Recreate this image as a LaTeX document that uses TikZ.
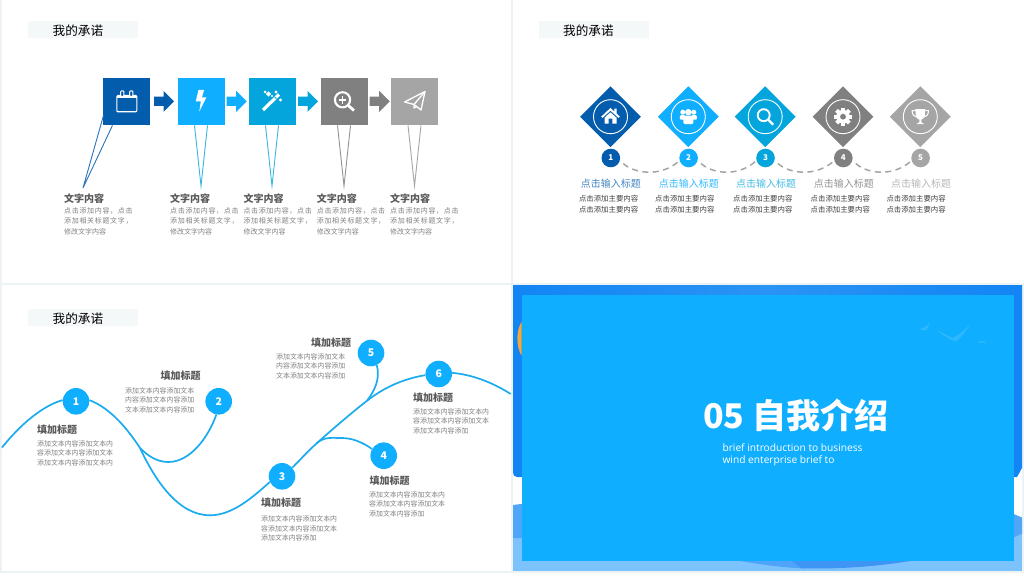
\documentclass[tikz,border=0pt]{standalone}
\usepackage{fontspec}
\setmainfont{Noto Sans CJK SC}
\newfontfamily\cjkspaced[LetterSpace=9.5]{Noto Sans CJK SC}
\newfontfamily\latinfont{Open Sans}
\usetikzlibrary{calc,shapes.geometric}
\definecolor{gutter}{HTML}{EDF3F5}
\definecolor{barfill}{HTML}{F5F8F9}
\definecolor{cA}{HTML}{045CAD}
\definecolor{cB}{HTML}{0FAEFF}
\definecolor{cC}{HTML}{04A5DC}
\definecolor{cD}{HTML}{808080}
\definecolor{cE}{HTML}{A5A5A5}
\definecolor{curve}{HTML}{1AACEF}
\definecolor{headgrey}{HTML}{595959}
\definecolor{bodygrey}{HTML}{808080}
\definecolor{deep}{HTML}{1384F4}
\definecolor{deepmid}{HTML}{2A94F5}
\definecolor{light}{HTML}{7CC2FC}
\definecolor{mid}{HTML}{4FA6F8}
\definecolor{bulgeA}{HTML}{4EA4F8}
\definecolor{bulgeB}{HTML}{3F95F3}
\definecolor{sun}{HTML}{F2A83B}
\tikzset{
  panel/.style={fill=white,draw=none},
  titlebar/.style={fill=barfill,minimum width=110,minimum height=17,inner sep=0,anchor=north west},
  titletext/.style={inner sep=0,anchor=west,text=black,font=\fontsize{12.6}{15}\selectfont},
  sq/.style={minimum size=47,inner sep=0,fill=#1,anchor=north west},
  pin/.style={draw=#1,line width=.9,line join=miter},
  headtext/.style={inner sep=0,anchor=west,text=headgrey,font=\fontsize{10}{12}\bfseries\selectfont},
  bodyone/.style={inner sep=0,anchor=north west,align=left,text=bodygrey,font=\fontsize{7}{10.3}\cjkspaced\selectfont},
  dia/.style={diamond,aspect=1,minimum size=61,inner sep=0,fill=#1},
  ring/.style={circle,draw=white,line width=.9,minimum size=34,inner sep=0},
  numc/.style={circle,minimum size=18.6,inner sep=0,fill=#1,text=white,font=\fontsize{8}{9}\bfseries\selectfont},
  dashcurve/.style={draw=cE,line width=1.5,dash pattern=on 6 off 4.5},
  titletwo/.style={inner sep=0,anchor=west,text=#1,font=\fontsize{10}{12}\selectfont},
  bodytwo/.style={inner sep=0,anchor=north west,align=left,text=black!75,font=\fontsize{7.4}{10.4}\selectfont},
  stepcirc/.style={circle,minimum size=26.6,inner sep=0,fill=cB,text=white,font=\fontsize{10.5}{12}\bfseries\selectfont},
  wave/.style={draw=curve,line width=1.7},
  bodythree/.style={inner sep=0,anchor=north west,align=left,text=bodygrey,font=\fontsize{6.9}{9.55}\selectfont},
}
\newcommand{\blockarrow}[3]{\fill[#3] (#1,#2-4.7)--++(9.5,0)--++(0,-5.8)--(#1+20,#2)--(#1+9.5,#2+10.5)--++(0,-5.8)--(#1,#2+4.7)--cycle;}
\begin{document}
\begin{tikzpicture}[x=1pt,y=-1pt]
\useasboundingbox (0,0) rectangle (1024,577);
\fill[gutter] (0,0) rectangle (1024,577);
\fill[panel] (2,0) rectangle (511,283);
\fill[panel] (513,0) rectangle (1024,283);
\fill[panel] (2,285) rectangle (511,571);
\fill[panel] (0,573) rectangle (1024,577);
\fill[panel] (513,285) rectangle (1022,571);
% ---- panel 1
\node[titlebar] (tbA) at (28,21) {};
\node[titletext] (ttA) at (52.5,30.5) {我的承诺};
\node[sq=cA] (a1) at (103,78) {};
\node[sq=cB] (a2) at (177.5,78) {};
\node[sq=cC] (a3) at (248.5,78) {};
\node[sq=cD] (a4) at (320.5,78) {};
\node[sq=cE] (a5) at (391,78) {};
\blockarrow{154}{101.3}{cA}
\blockarrow{226.7}{101.3}{cB}
\blockarrow{298}{101.3}{cC}
\blockarrow{369.7}{101.3}{cD}
\coordinate (pa1) at (83,188);
\coordinate (pa2) at (201,186);
\coordinate (pa3) at (272,186);
\coordinate (pa4) at (344,186);
\coordinate (pa5) at (414.5,186);
\draw[pin=cA!85!white] ($(a1.south west)+(0.5,-10)$) -- (pa1) -- ($(a1.south west)+(9.5,0)$);
\draw[pin=cC!80!white] ($(a2.south west)+(17,0)$) -- (pa2) -- ($(a2.south west)+(30,0)$);
\draw[pin=cC!80!white] ($(a3.south west)+(17,0)$) -- (pa3) -- ($(a3.south west)+(30,0)$);
\draw[pin=cD!85!white] ($(a4.south west)+(17,0)$) -- (pa4) -- ($(a4.south west)+(30,0)$);
\draw[pin=cE] ($(a5.south west)+(17,0)$) -- (pa5) -- ($(a5.south west)+(30,0)$);
% calendar
\draw[white,line width=1.1,rounded corners=1] (116.8,95.5) rectangle (136.8,111.8);
\draw[white,line width=2] (117,97) -- (136.6,97);
\filldraw[draw=white,fill=cA,line width=1,rounded corners=.8] (120.7,96.4) -- (120.7,91) -- (123.9,91) -- (123.9,96.4) -- cycle;
\filldraw[draw=white,fill=cA,line width=1,rounded corners=.8] (129.7,96.4) -- (129.7,91) -- (132.9,91) -- (132.9,96.4) -- cycle;
% bolt
\fill[white] (198.5,90) -- (204,90) -- (202,97.5) -- (206.3,97.5) -- (199.3,111.5) -- (200.8,101.5) -- (195.7,101.5) -- cycle;
% wand
\draw[white,line width=3.2] (263,110) -- (279,94.5);
\fill[cC] (274.2,97.2) -- (276,99) -- (276.7,98.3) -- (274.9,96.5) -- cycle;
\foreach \sx/\sy/\sz in {268.5/94/2.6, 276/92/1.7, 280.5/100/1.7, 265/92/1.5, 272/96/1.2}{
  \fill[white] (\sx-\sz,\sy) -- (\sx,\sy-\sz) -- (\sx+\sz,\sy) -- (\sx,\sy+\sz) -- cycle;}
% zoom
\draw[white,line width=2.1] (342.5,99.8) circle (7.6);
\draw[white,line width=1.5] (338.7,99.8) -- (346.3,99.8) (342.5,96) -- (342.5,103.6);
\draw[white,line width=2.8] (348.2,105.5) -- (354,110.5);
% plane
\draw[white,line width=1.3,line join=round] (404.5,102) -- (425,91.5) -- (421,110) -- (414,104.5) -- cycle;
\draw[white,line width=1.3,line join=round] (414,104.5) -- (425,91.5) (414,104.5) -- (414,108) -- (417,106.5);
% texts panel 1
\foreach \nm/\xx in {1/64,2/170,3/243.3,4/316.7,5/390}{
  \node[headtext] (ah\nm) at (\xx,198.7) {文字内容};
  \node[bodyone] (ab\nm) at (\xx,207.4) {点击添加内容，点击\\添加相关标题文字，\\{\normalfont\fontsize{7}{10.3}\selectfont 修改文字内容}};
}
% ---- panel 2
\node[titlebar] (tbB) at (539,21) {};
\node[titletext] (ttB) at (563,30.5) {我的承诺};
\foreach \nm/\xx/\cc in {1/610.5/cA,2/688.3/cB,3/765.2/cC,4/843/cD,5/920.3/cE}{
  \node[dia=\cc] (d\nm) at (\xx,116.7) {};
  \node[ring] (r\nm) at (\xx,116.7) {};
  \node[numc=\cc] (n\nm) at (\xx+.3,158) {\nm};
}
\node[titletwo=cA!75!white] (dt1) at (580.7,183.3) {点击输入标题};
\node[titletwo=cB!85!white] (dt2) at (658.7,183.3) {点击输入标题};
\node[titletwo=cC!75!white] (dt3) at (736,183.3) {点击输入标题};
\node[titletwo=cD!85!white] (dt4) at (813.7,183.3) {点击输入标题};
\node[titletwo=cE!80!white] (dt5) at (891,183.3) {点击输入标题};
\foreach \nm/\xx in {1/578.8,2/655,3/733,4/810.5,5/886.3}{
  \node[bodytwo] (db\nm) at (\xx,195.5) {点击添加主要内容\\点击添加主要内容};
}
\foreach \s/\e in {1/2,2/3,3/4,4/5}{
  \draw[dashcurve] ($(n\s)+(12.5,5.5)$) .. controls ($(n\s)+(22.5,15)$) and ($(n\e)+(-28.5,20)$) .. ($(n\e)+(-9.5,3)$);
}
% house
\begin{scope}[shift={(610.5,116.7)}]
\fill[white] (-9.3,0) -- (0,-8.8) -- (3.8,-5.2) -- (3.8,-8) -- (6.2,-8) -- (6.2,-3) -- (9.3,0) -- (8,1.2) -- (0,-6) -- (-8,1.2) -- cycle;
\fill[white] (-6,1) -- (0,-4.4) -- (6,1) -- (6,7) -- (1.8,7) -- (1.8,2) -- (-1.8,2) -- (-1.8,7) -- (-6,7) -- cycle;
\end{scope}
% people
\begin{scope}[shift={(688.3,116.7)}]
\fill[white] (-5.5,-4.5) circle (2.5) (5.5,-4.5) circle (2.5) (0,-4.5) circle (3.2);
\fill[white,rounded corners=1] (-8.5,3) rectangle (-3,-1.5) (3,-1.5) rectangle (8.5,3);
\fill[white,rounded corners=1.5] (-5,7.5) rectangle (5,-1);
\end{scope}
% search
\begin{scope}[shift={(765.2,116.7)}]
\draw[white,line width=1.9] (-1.5,-1.5) circle (6);
\draw[white,line width=2.4] (3,3) -- (8,8);
\end{scope}
% gear
\begin{scope}[shift={(843,116.7)}]
\foreach \a in {0,45,...,315}{\fill[white,rotate=\a] (-2,-9) rectangle (2,0);}
\fill[white] (0,0) circle (6.8);
\fill[cD] (0,0) circle (2.9);
\end{scope}
% trophy
\begin{scope}[shift={(920.3,116.7)}]
\fill[white] (-5,-7.5) -- (5,-7.5) -- (4.5,-1) .. controls (4,2) and (1.5,2.5) .. (1,3) -- (1,5.5) -- (4,7.5) -- (-4,7.5) -- (-1,5.5) -- (-1,3) .. controls (-1.5,2.5) and (-4,2) .. (-4.5,-1) -- cycle;
\draw[white,line width=1] (-5,-6) -- (-8.2,-6) .. controls (-8.2,-2) and (-6,0) .. (-3.5,0.5);
\draw[white,line width=1] (5,-6) -- (8.2,-6) .. controls (8.2,-2) and (6,0) .. (3.5,0.5);
\end{scope}
% ---- panel 3
\node[titlebar] (tbC) at (28,309) {};
\node[titletext] (ttC) at (52.5,318.5) {我的承诺};
\node[stepcirc] (s1) at (76,401.3) {1};
\node[stepcirc] (s2) at (218.7,401.3) {2};
\node[stepcirc] (s3) at (282,476.3) {3};
\node[stepcirc] (s4) at (383.7,455.7) {4};
\node[stepcirc] (s5) at (371,353) {5};
\node[stepcirc] (s6) at (438.7,374) {6};
\coordinate (wS) at (2,447.5);
\coordinate (wE) at (510.7,394);
\coordinate (j1) at (140,448);
\coordinate (j2) at (316.5,443.5);
\coordinate (j3) at (366.7,401);
\coordinate (wB) at (210,515.3);
\coordinate (wM) at (168.3,462);
\coordinate (wP) at (341.7,438);
\draw[wave] (wS) .. controls (20,425) and (42,406) .. (s1.175);
\draw[wave] (s1.5) .. controls (110,408) and (127,428) .. (j1);
\draw[wave] (j1) .. controls (155,480) and (178,515.3) .. (wB) .. controls (232,515.3) and (252,498) .. (s3.205);
\draw[wave] (j1) .. controls (148,456) and (157,462) .. (wM) .. controls (190,462) and (208,438) .. (s2.-100);
\draw[wave] (s3.40) .. controls (300,460) and (308,451) .. (j2) .. controls (331,430.5) and (350,414) .. (j3) .. controls (387,385) and (408,378) .. (s6.185);
\draw[wave] (s6.5) .. controls (475,375) and (495,384) .. (wE);
\draw[wave] (j2) .. controls (324,436.5) and (332,438) .. (wP) .. controls (352,438) and (362,442) .. (s4.150);
\draw[wave] (j3) .. controls (373,393) and (381,380) .. (s5.-65);
\node[headtext] (h1) at (37,429.5) {填加标题};
\node[headtext] (h2) at (160.3,375.3) {填加标题};
\node[headtext] (h3) at (261,502.5) {填加标题};
\node[headtext] (h4) at (369.5,480.3) {填加标题};
\node[headtext] (h5) at (311,343) {填加标题};
\node[headtext] (h6) at (413,397.5) {填加标题};
\node[bodythree] (b1) at (37,440.2) {添加文本内容添加文本内\\容添加文本内容添加文本\\添加文本内容添加文本内};
\node[bodythree] (b2) at (125,387.2) {添加文本内容添加文本\\内容添加文本内容添加\\文本添加文本内容添加};
\node[bodythree] (b3) at (261,515.8) {添加文本内容添加文本内\\容添加文本内容添加文本\\添加文本内容添加};
\node[bodythree] (b4) at (369,491.4) {添加文本内容添加文本内\\容添加文本内容添加文本\\添加文本内容添加};
\node[bodythree] (b5) at (276,353.2) {添加文本内容添加文本\\内容添加文本内容添加\\文本添加文本内容添加};
\node[bodythree] (b6) at (413,408.2) {添加文本内容添加文本内\\容添加文本内容添加文本\\添加文本内容添加};
% ---- panel 4
\fill[light] (513,530) rectangle (1022,571);
\fill[mid] (513,505) -- (525,503.5) -- (1005,511) .. controls (1012,513) and (1017,515.5) .. (1022,517.5) -- (1022,533.5) .. controls (1018,535.5) and (1015,537) .. (1010,539) -- (525,538) -- (513,538) -- cycle;
\fill[bulgeA] (740,561) .. controls (770,566) and (790,568) .. (802,568.3) -- (910,561) -- cycle;
\fill[bulgeB] (792,561) -- (801,568.2) .. controls (840,569.5) and (880,566) .. (910,561) -- cycle;
\path[left color=deep,right color=deep,middle color=deepmid] (513,285) -- (1022,285) -- (1022,468) -- (1017,477) -- (517,477) .. controls (514,477) and (513,475) .. (513,472) -- cycle;
\fill[sun] (521.5,322) .. controls (516,330) and (516,347) .. (521.5,355.5) -- cycle;
\fill[cB] (521.5,295) rectangle (1013.5,561);
\begin{scope}[fill=white,opacity=.13]
\fill (918,329.5) .. controls (925,328) and (928,326) .. (930,322) .. controls (929,326) and (928,328) .. (926,330) .. controls (925,330) and (921,330) .. (918,329.5) -- cycle;
\fill (937,330) .. controls (945,334) and (950,337) .. (953,338) .. controls (958,335) and (965,330) .. (970,324) .. controls (966,332) and (961,337) .. (957,341) .. controls (953,341) and (950,340) .. (948,338) .. controls (944,336) and (940,333) .. (937,330) -- cycle;
\fill (978,343) .. controls (980,340) and (984,340) .. (987,343.5) .. controls (984,342) and (981,342) .. (978,343) -- cycle;
\end{scope}
\node[inner sep=0,anchor=west,text=white,font=\fontsize{34}{40}\bfseries\selectfont] (big) at (703,415.5) {05 自我介绍};
\node[inner sep=0,anchor=north west,align=left,text=white,font=\fontsize{10.2}{12.1}\latinfont\selectfont] (sub) at (722.3,443.6) {brief introduction to business\\wind enterprise brief to};
\end{tikzpicture}
\end{document}
